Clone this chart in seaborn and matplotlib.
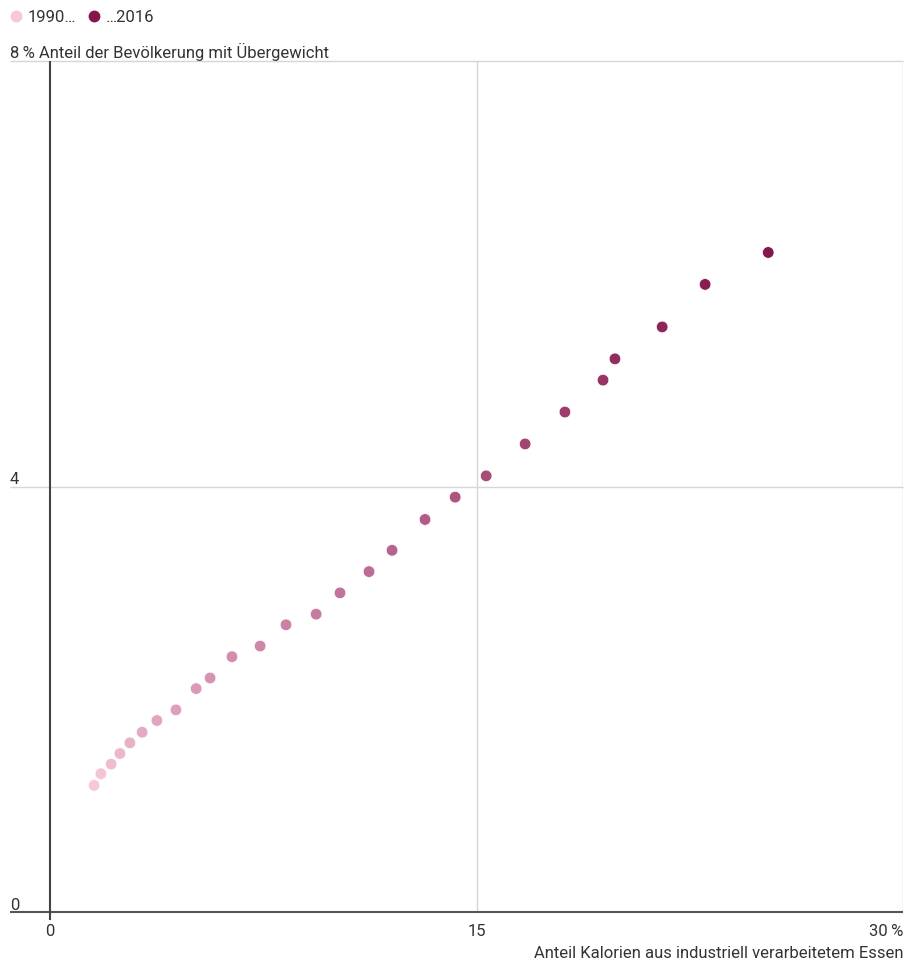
import numpy as np
import pandas as pd
import seaborn as sns
import matplotlib
matplotlib.use('Agg')
import matplotlib.pyplot as plt
from matplotlib.lines import Line2D

years = list(range(1990, 2017))
kalorien = [1.55, 1.79, 2.15, 2.46, 2.81, 3.24, 3.76, 4.43, 5.14, 5.63,
            6.40, 7.39, 8.30, 9.36, 10.20, 11.22, 12.03, 13.19, 14.25, 15.34,
            16.71, 18.11, 19.45, 19.87, 21.53, 23.04, 25.26]
uebergewicht = [1.19, 1.30, 1.39, 1.49, 1.59, 1.69, 1.80, 1.90, 2.10, 2.20,
                2.40, 2.50, 2.70, 2.80, 3.00, 3.20, 3.40, 3.69, 3.90, 4.10,
                4.40, 4.70, 5.00, 5.20, 5.50, 5.90, 6.20]

df = pd.DataFrame({"Jahr": years, "Kalorien": kalorien, "Uebergewicht": uebergewicht})

sns.set_style("white")
plt.rcParams['font.family'] = ['Roboto', 'DejaVu Sans']

light = "#f6c9da"
dark = "#84164a"
cmap = sns.blend_palette([light, "#c77ba0", dark], as_cmap=True)

W, H = 906, 961
fig = plt.figure(figsize=(W / 100, H / 100), dpi=100)
ax = fig.add_axes([50 / W, (H - 912) / H, 853 / W, 851 / H])

txt = "#333333"
grid = "#d6d6d6"
fs = 12

ax.set_xlim(0, 30)
ax.set_ylim(0, 8)
for s in ax.spines.values():
    s.set_visible(False)
ax.set_xticks([])
ax.set_yticks([])

# grid lines
ax.vlines([15, 30], 0, 8, color=grid, lw=1, zorder=0)
ax.hlines([4, 8], -40 / 853, 1, color=grid, lw=1, zorder=0,
          transform=ax.get_yaxis_transform(), clip_on=False)
# axes
ax.hlines([0], -40 / 853, 1, color="#555555", lw=1.5, zorder=1,
          transform=ax.get_yaxis_transform(), clip_on=False)
ax.vlines([0], -8 / 851, 1, color="#444444", lw=1.5, zorder=1,
          transform=ax.get_xaxis_transform(), clip_on=False)

sns.scatterplot(data=df, x="Kalorien", y="Uebergewicht", hue="Jahr",
                palette=cmap, s=70, edgecolor="white", linewidth=0.5,
                legend=False, ax=ax, zorder=3, clip_on=False)
ax.set_xlabel("")
ax.set_ylabel("")

# y labels
ytr = ax.get_yaxis_transform()
ax.text(-40 / 853, 3.995, "4", transform=ytr, ha="left", va="bottom", fontsize=fs, color=txt)
ax.text(-40 / 853, -0.005, "0", transform=ytr, ha="left", va="bottom", fontsize=fs, color=txt)
ax.text(-40 / 853, 8.0, "8\u2009% Anteil der Bevölkerung mit Übergewicht",
        transform=ytr, ha="left", va="bottom", fontsize=fs, color=txt)

# x labels
xtr = ax.get_xaxis_transform()
xl_y = -20 / 851
ax.text(0, xl_y, "0", transform=xtr, ha="center", va="center", fontsize=fs, color=txt)
ax.text(15, xl_y, "15", transform=xtr, ha="center", va="center", fontsize=fs, color=txt)
ax.text(30, xl_y, "30\u2009%", transform=xtr, ha="right", va="center", fontsize=fs, color=txt)
ax.text(30, -41 / 851, "Anteil Kalorien aus industriell verarbeitetem Essen",
        transform=xtr, ha="right", va="center", fontsize=fs, color=txt)

# legend
handles = [Line2D([], [], marker="o", ls="", color=light, markersize=7.5),
           Line2D([], [], marker="o", ls="", color=dark, markersize=7.5)]
fig.legend(handles, ["1990…", "…2016"], loc="upper left",
           bbox_to_anchor=(-0.003, 1.0), ncol=2, frameon=False, fontsize=fs,
           handletextpad=0.2, columnspacing=0.6, handlelength=1.0,
           borderaxespad=0.2, labelcolor=txt)

fig.savefig("out.png", dpi=100)
plt.close()
